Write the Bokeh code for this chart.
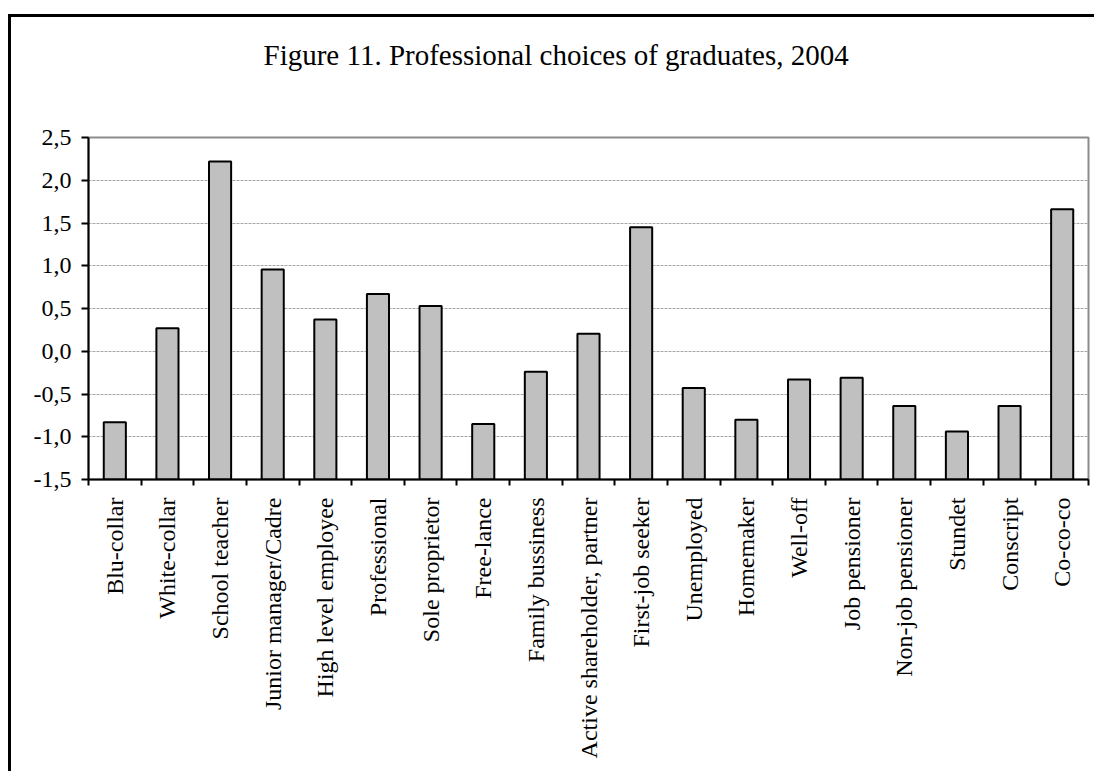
import math
from bokeh.plotting import figure
from bokeh.models import (Range1d, FixedTicker, CustomJSTickFormatter, ColumnDataSource, Title)
from bokeh.embed import file_html
from bokeh.resources import INLINE

title_text = "Figure 11. Professional choices of graduates, 2004"
categories = ["Blu-collar", "White-collar", "School teacher", "Junior manager/Cadre",
              "High level employee", "Professional", "Sole proprietor", "Free-lance",
              "Family bussiness", "Active shareholder, partner", "First-job seeker",
              "Unemployed", "Homemaker", "Well-off", "Job pensioner", "Non-job pensioner",
              "Stundet", "Conscript", "Co-co-co"]
values = [-0.83, 0.27, 2.22, 0.955, 0.37, 0.67, 0.53, -0.85, -0.24, 0.205, 1.45,
          -0.43, -0.80, -0.33, -0.31, -0.64, -0.94, -0.64, 1.66]
y_ticks = [-1.5, -1.0, -0.5, 0.0, 0.5, 1.0, 1.5, 2.0, 2.5]

FONT = "Liberation Serif"
n = len(categories)
xs = [i + 0.5 for i in range(n)]
src = ColumnDataSource(dict(x=xs, top=values, bottom=[y_ticks[0]] * n, name=categories))

W, H = 1086, 757
MB_L, MB_R, MB_T, MB_B = 77, 9, 120, 295

p = figure(width=W, height=H, output_backend="svg", toolbar_location=None,
           x_range=Range1d(0, n), y_range=Range1d(y_ticks[0], y_ticks[-1]),
           min_border_left=MB_L, min_border_right=MB_R, min_border_top=MB_T,
           min_border_bottom=MB_B,
           background_fill_color="white", border_fill_color="white",
           margin=(14, 0, 0, 8),
           styles={"border-top": "3px solid black", "border-left": "3px solid black"})

# main title (outermost) and a blank spacer title between it and the frame
p.title = Title(text=title_text, align="left", offset=175, standoff=0,
                vertical_align="bottom",
                text_font=FONT, text_font_size="29px", text_font_style="normal",
                text_color="black")
p.add_layout(Title(text=" ", standoff=64, text_font_size="1px"), "above")

p.vbar(x="x", top="top", bottom="bottom", width=0.42, source=src,
       fill_color="#C0C0C0", line_color="black", line_width=2)

p.outline_line_color = "#8c8c8c"
p.outline_line_width = 2

# y axis
p.yaxis.ticker = FixedTicker(ticks=y_ticks)
p.yaxis.formatter = CustomJSTickFormatter(code="return tick.toFixed(1).replace('.', ',');")
p.yaxis.axis_line_color = "black"
p.yaxis.axis_line_width = 2
p.yaxis.major_tick_line_color = "black"
p.yaxis.major_tick_line_width = 2
p.yaxis.major_tick_out = 7
p.yaxis.major_tick_in = 0
p.yaxis.minor_tick_line_color = None
p.yaxis.major_label_standoff = 10
p.yaxis.major_label_text_font = FONT
p.yaxis.major_label_text_font_size = "24px"
p.yaxis.major_label_text_color = "black"

# x axis: labels at category centres, tick marks between categories
p.xaxis.ticker = FixedTicker(ticks=xs, minor_ticks=list(range(n + 1)))
p.xaxis.formatter = CustomJSTickFormatter(args=dict(names=categories),
                                          code="return names[Math.floor(tick)];")
p.xaxis.major_label_orientation = math.pi / 2
p.xaxis.axis_line_color = "black"
p.xaxis.axis_line_width = 2
p.xaxis.major_tick_out = 0
p.xaxis.major_tick_in = 0
p.xaxis.minor_tick_out = 6
p.xaxis.minor_tick_in = 0
p.xaxis.minor_tick_line_color = "black"
p.xaxis.minor_tick_line_width = 2
p.xaxis.major_label_standoff = 12
p.xaxis.major_label_text_font = FONT
p.xaxis.major_label_text_font_size = "24px"
p.xaxis.major_label_text_color = "black"

p.xgrid.grid_line_color = None
p.ygrid.grid_line_color = "#a6a6a6"
p.ygrid.grid_line_dash = "3 1"
p.ygrid.grid_line_width = 1

open("out.html", "w").write(file_html(p, INLINE))
